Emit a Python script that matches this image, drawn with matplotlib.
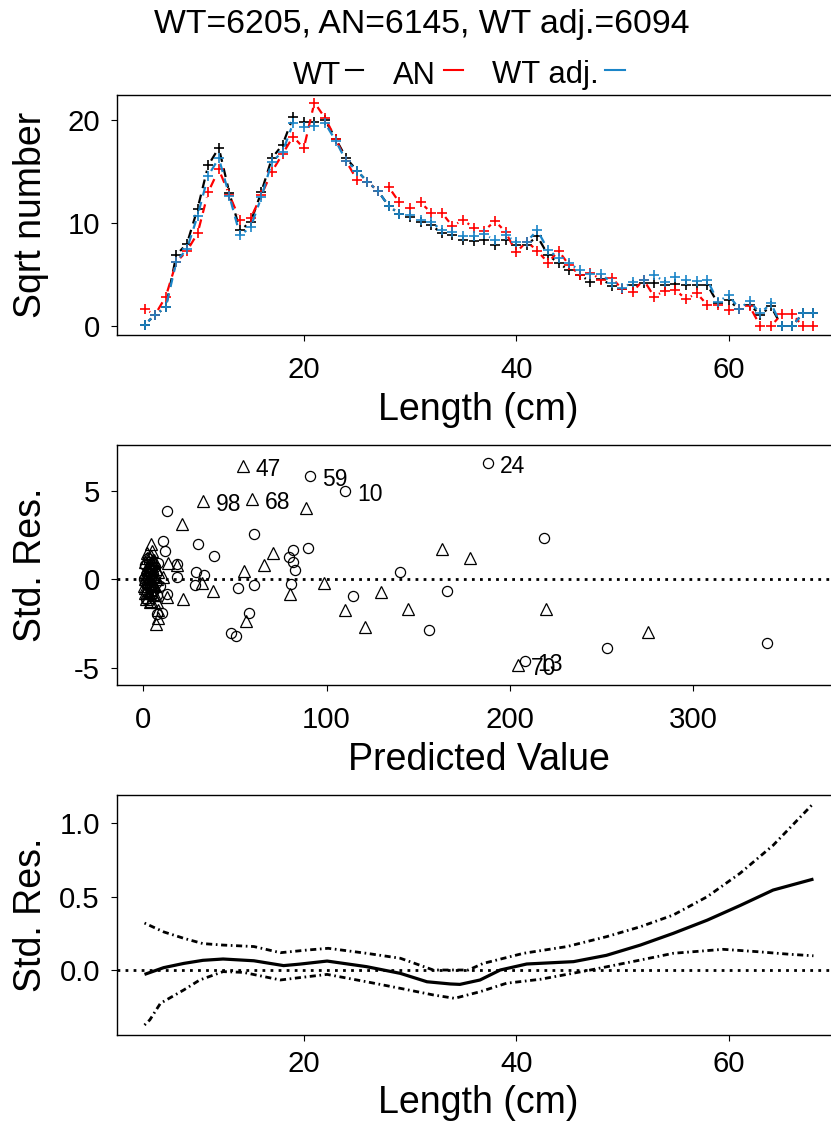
import numpy as np
import matplotlib
matplotlib.use('Agg')
import matplotlib.pyplot as plt
from matplotlib.collections import LineCollection

plt.rcParams['font.family'] = ['Liberation Sans', 'DejaVu Sans']
plt.rcParams['axes.unicode_minus'] = False

# ---------------- data ----------------
length = list(range(5, 69))
wt = [0.1, 1.1, 1.8, 6.9, 8.0, 11.4, 15.6, 17.3, 12.9, 9.3, 10.1, 13.0, 16.3, 17.6,
      20.3, 19.8, 19.8, 20.0, 18.2, 16.3, 15.1, 14.0, 13.1, 11.65, 10.9, 10.6, 10.1,
      9.8, 9.0, 8.8, 8.35, 8.25, 8.4, 7.9, 8.35, 7.9, 7.9, 8.7, 6.9, 6.1, 5.4, 4.95,
      4.3, 4.6, 3.9, 3.55, 4.0, 4.2, 4.2, 4.0, 4.1, 4.0, 4.0, 4.0, 2.2, 2.5, 1.65,
      2.05, 1.1, 1.9, 0.0, 0.0, 1.23, 1.23]
an = [1.65, 1.1, 2.85, 6.2, 7.3, 9.0, 13.0, 15.2, 12.7, 10.3, 10.45, 12.7, 15.0, 16.7,
      18.4, 17.25, 21.7, 20.2, 18.2, 16.0, 14.2, 14.0, 13.1, 13.5, 12.0, 11.5, 12.0,
      11.0, 11.0, 9.7, 10.3, 9.55, 9.25, 10.2, 9.15, 7.15, 8.2, 7.3, 6.15, 7.3, 5.9,
      4.95, 5.15, 4.5, 4.7, 3.55, 3.35, 4.5, 2.85, 3.45, 3.5, 2.6, 3.2, 2.05, 2.05,
      1.55, 1.65, 1.9, 0.0, 0.0, 1.15, 1.15, 0.0, 0.0]
wt_adj = [0.1, 1.1, 1.8, 6.25, 7.5, 10.7, 14.6, 16.3, 12.6, 8.8, 9.6, 12.5, 15.95, 16.9,
          19.7, 19.35, 19.4, 19.7, 18.0, 16.0, 15.1, 14.0, 13.1, 11.65, 10.9, 10.8, 10.3,
          10.1, 9.3, 9.15, 8.7, 8.7, 8.9, 8.35, 8.8, 8.2, 8.2, 9.3, 7.4, 6.6, 6.1, 5.4,
          5.1, 5.1, 4.15, 3.65, 4.3, 4.5, 4.95, 4.3, 4.8, 4.45, 4.35, 4.5, 2.35, 3.0, 1.7,
          2.4, 1.23, 2.2, 0.0, 0.0, 1.23, 1.23]
series_names = ['WT', 'AN', 'WT adj.']
series_colors = ['black', '#ff0000', '#1a85c8']
totals = [6205, 6145, 6094]

# middle panel: predicted value vs standardized residual
pred_circ = [12.8, 10.9, 11.8, 30.0, 38.6, 28.8, 33.1, 28.2, 18.5, 18.2, 12.8, 10.4, 7.3,
             51.5, 60.4, 60.6, 57.7, 47.8, 50.6, 81.8, 79.7, 81.8, 82.8, 80.6, 89.7,
             114.6, 140.0, 155.9, 165.9, 218.6, 253.1, 340.1,
             1.0, 2.0, 3.0, 4.0, 5.0, 6.0, 2.5, 7.0, 1.5, 3.5, 8.0, 4.5, 0.5, 6.5, 9.0,
             2.0, 5.5, 3.0, 7.5, 1.0, 4.0,
             90.9, 110.0, 187.9, 208.2]
res_circ = [3.87, 2.18, 1.62, 1.98, 1.32, 0.40, 0.24, -0.32, 0.87, 0.15, -0.83, -1.93, -1.96,
            -0.49, -0.34, 2.56, -1.93, -3.06, -3.19, 1.66, 1.28, 1.00, 0.53, -0.28, 1.75,
            -0.93, 0.43, -2.87, -0.64, 2.32, -3.87, -3.59,
            0.8, -0.3, 0.2, -0.9, 0.5, -0.6, 1.2, -0.2, -1.1, -0.5, 0.9, 0.1, 0.0, 0.7, -0.4,
            -0.7, 0.3, 1.0, -0.9, -0.2, 0.6,
            5.86, 5.02, 6.56, -4.60]
pred_tri = [20.9, 4.0, 13.3, 18.5, 10.9, 13.1, 21.5, 7.6, 8.2, 6.9, 8.2, 31.9, 38.2, 54.9,
            55.9, 70.6, 65.8, 88.8, 80.0, 98.8, 110.0, 120.9, 129.7, 144.2, 162.8, 178.2,
            219.7, 275.5,
            1.0, 2.0, 1.5, 3.0, 2.0, 1.0, 4.0, 5.0, 3.0, 6.0, 2.5, 4.5, 5.5, 7.0, 1.2, 3.5,
            6.5, 2.2, 4.0, 0.5, 5.0, 3.0, 7.5, 8.0, 1.8, 6.0, 2.8, 0.8,
            1.5, 2.5, 3.5, 4.5, 5.5, 6.5, 2.0, 3.0, 4.0, 5.0, 1.0, 6.0, 3.5, 2.5, 4.8,
            54.6, 32.7, 59.6, 204.6]
res_tri = [3.11, 2.00, 0.94, 0.81, 0.11, -0.98, -1.13, -1.27, -1.74, -2.53, -2.20, -0.23, -0.64,
           0.47, -2.36, 1.47, 0.81, 4.02, -0.85, -0.23, -1.74, -2.68, -0.70, -1.70, 1.70, 1.19,
           -1.70, -2.96,
           1.0, 0.6, 0.3, -0.2, -0.5, -0.8, 1.3, 0.9, 0.5, 0.2, -1.0, -0.6, -0.3, 0.6, 0.0, 0.9,
           -0.9, 1.5, -1.2, -0.4, 1.6, -0.8, 0.0, 0.4, 0.7, 1.1, -0.1, 0.4,
           -1.1, -0.7, 0.1, 0.6, -0.9, -0.4, 1.2, 0.8, -0.2, 0.3, -0.5, 0.9, -1.3, 0.2, 1.0,
           6.41, 4.43, 4.54, -4.85]
label_pred = [54.6, 90.9, 32.7, 59.6, 110.0, 187.9, 208.2, 204.6]
label_res = [6.41, 5.86, 4.43, 4.54, 5.02, 6.56, -4.60, -4.85]
label_txt = ['47', '59', '98', '68', '10', '24', '13', '70']

# bottom panel: smoothed residual trend with bands
len_fit = [5.0, 6.8, 8.7, 10.5, 12.4, 15.3, 18.1, 19.6, 22.2, 25.9, 29.1, 31.6, 33.8, 34.7,
           36.6, 38.5, 41.0, 45.4, 48.5, 51.7, 54.8, 58.0, 61.1, 64.2, 68.0]
fit = [-0.03, 0.016, 0.045, 0.066, 0.075, 0.063, 0.03, 0.04, 0.061, 0.023, -0.023, -0.08,
       -0.095, -0.098, -0.068, 0.0, 0.041, 0.057, 0.10, 0.17, 0.25, 0.34, 0.44, 0.545, 0.62]
len_up = [5.0, 6.8, 8.7, 10.5, 12.4, 15.3, 17.8, 20.3, 22.3, 25.9, 29.1, 32.2, 35.5, 36.9,
          40.7, 44.8, 48.5, 51.7, 54.8, 58.0, 61.1, 64.2, 68.0]
upper = [0.32, 0.26, 0.216, 0.18, 0.17, 0.16, 0.118, 0.136, 0.148, 0.114, 0.08, 0.0, 0.0,
         0.045, 0.114, 0.16, 0.227, 0.295, 0.375, 0.50, 0.66, 0.85, 1.136]
len_lo = [5.0, 5.5, 6.5, 8.7, 10.2, 12.4, 14.3, 17.8, 19.6, 22.2, 25.9, 29.1, 32.2, 34.2,
          36.6, 39.1, 42.3, 47.0, 51.7, 54.8, 59.5, 62.7, 65.8, 68.0]
lower = [-0.375, -0.34, -0.227, -0.136, -0.068, -0.011, -0.016, -0.068, -0.052, -0.03, -0.08,
         -0.125, -0.17, -0.193, -0.148, -0.09, -0.063, 0.0, 0.068, 0.114, 0.141, 0.125,
         0.107, 0.097]

# ---------------- layout ----------------
W, H = 831, 1125
fig = plt.figure(figsize=(W / 100, H / 100), dpi=100)

TICK = 21.2
LAB = 27
BOX_L, BOX_R = 117, 840


def ax_at(t, b):
    return fig.add_axes([BOX_L / W, 1 - b / H, (BOX_R - BOX_L) / W, (b - t) / H])


def style(ax, xlabel, ylabel, xpad=10.5, xlab_off=57):
    for s in ax.spines.values():
        s.set_linewidth(1.0)
        s.set_color('black')
    ax.tick_params(axis='both', direction='out', length=4.3, width=0.8,
                   labelsize=TICK, color='black')
    ax.tick_params(axis='x', pad=xpad)
    ax.tick_params(axis='y', pad=8)
    ax.set_xlabel(xlabel, fontsize=LAB)
    ax.set_ylabel(ylabel, fontsize=LAB)
    ax.xaxis.set_label_coords(0.5, -xlab_off / 240)
    ax.yaxis.set_label_coords((49 - BOX_L) / (BOX_R - BOX_L), 0.5)


def gapped(ax, x, y, gap):
    pts = ax.transData.transform(np.column_stack([x, y]))
    inv = ax.transData.inverted()
    segs = []
    for p, q in zip(pts[:-1], pts[1:]):
        d = q - p
        L = np.hypot(d[0], d[1])
        if L <= 2 * gap + 1:
            continue
        u = d / L
        segs.append(inv.transform(np.array([p + u * gap, q - u * gap])))
    return segs


# ---- top panel ----
ax1 = ax_at(95, 335)
ax1.set_xlim(2.41, 70.5)
ax1.set_ylim(-0.87, 22.43)
ax1.set_xticks([20, 40, 60])
ax1.set_yticks([0, 10, 20])
for vals, col in zip([wt, an, wt_adj], series_colors):
    segs = gapped(ax1, length, vals, 5.5)
    lc = LineCollection(segs, colors=col, linewidths=1.6, linestyles=(0, (4, 3)))
    ax1.add_collection(lc)
    ax1.plot(length, vals, linestyle='none', marker='+', ms=6.8, mew=1.2, color=col)
style(ax1, 'Length (cm)', 'Sqrt number')

# ---- middle panel ----
ax2 = ax_at(445, 685)
ax2.set_xlim(-14.3, 380.1)
ax2.set_ylim(-5.98, 7.6)
ax2.set_xticks([0, 100, 200, 300])
ax2.set_yticks([-5, 0, 5])
ax2.axhline(0, color='black', lw=2, linestyle=(0, (1, 1.9)))
ax2.plot(pred_circ, res_circ, linestyle='none', marker='o', ms=7.3, mfc='none',
         mec='black', mew=0.9)
ax2.plot(pred_tri, res_tri, linestyle='none', marker='^', ms=8.0, mfc='none',
         mec='black', mew=0.9)
for px, py, t in zip(label_pred, label_res, label_txt):
    ax2.annotate(t, (px, py), xytext=(9, -2.5), textcoords='offset points',
                 ha='left', va='center', fontsize=16.5)
style(ax2, 'Predicted Value', 'Std. Res.')

# ---- bottom panel ----
ax3 = ax_at(795, 1035)
ax3.set_xlim(2.41, 70.5)
ax3.set_ylim(-0.443, 1.193)
ax3.set_xticks([20, 40, 60])
ax3.set_yticks([0.0, 0.5, 1.0])
ax3.set_yticklabels(['0.0', '0.5', '1.0'])
ax3.axhline(0, color='black', lw=2, linestyle=(0, (1, 1.9)))
dd = (0, (0.6, 1.3, 2.2, 1.3))
ax3.plot(len_up, upper, color='black', lw=2.0, linestyle=dd)
ax3.plot(len_lo, lower, color='black', lw=2.0, linestyle=dd)
ax3.plot(len_fit, fit, color='black', lw=2.3, solid_capstyle='butt',
         solid_joinstyle='round')
style(ax3, 'Length (cm)', 'Std. Res.', xpad=6.5, xlab_off=50)

# ---- title and legend ----
title = ', '.join(f'{n}={v}' for n, v in zip(series_names, totals))
fig.text(421.5 / W, 1 - 33 / H, title, ha='center', va='baseline', fontsize=24.3)
leg_x = [293.3, 393.3, 491.7]
line_x = [(346, 363), (444, 463), (605, 625)]
for n, c, tx, (a, b) in zip(series_names, series_colors, leg_x, line_x):
    fig.text(tx / W, 1 - 83.5 / H, n, ha='left', va='baseline', fontsize=22.3)
    fig.add_artist(plt.Line2D([a / W, b / W], [1 - 70 / H, 1 - 70 / H],
                              color=c, lw=1.5, transform=fig.transFigure))

fig.savefig('out.png', dpi=100)
